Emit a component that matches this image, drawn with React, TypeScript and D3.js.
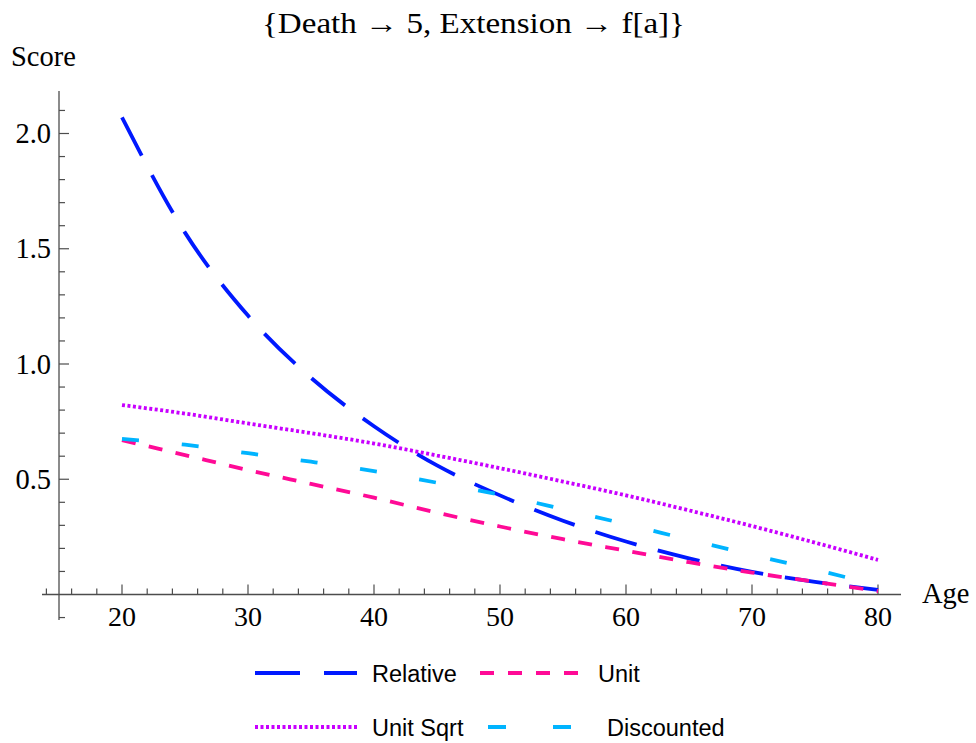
import * as d3 from "d3";
import { useEffect, useRef } from "react";

// ---------------- DATA ----------------
const ages = [20, 25, 30, 35, 40, 45, 50, 55, 60, 65, 70, 75, 80];
const relative = [2.07, 1.57, 1.21, 0.94, 0.73, 0.56, 0.43, 0.32, 0.23, 0.157, 0.098, 0.055, 0.02];
const unit = [0.67, 0.605, 0.54, 0.48, 0.42, 0.355, 0.295, 0.24, 0.19, 0.14, 0.095, 0.055, 0.015];
const unitSqrt = [0.822, 0.785, 0.742, 0.7, 0.655, 0.603, 0.548, 0.49, 0.43, 0.365, 0.297, 0.225, 0.15];
const discounted = [0.675, 0.65, 0.613, 0.576, 0.535, 0.485, 0.433, 0.37, 0.305, 0.238, 0.172, 0.108, 0.04];

const seriesNames = ["Relative", "Unit", "Unit Sqrt", "Discounted"];
const xMajorTicks = [20, 30, 40, 50, 60, 70, 80];
const yMajorTicks = [0.5, 1.0, 1.5, 2.0];

const title = "{Death \u2192 5, Extension \u2192 f[a]}";

export default function App() {
  const refSvg = useRef(null);

  useEffect(() => {
    const svg = d3.select(refSvg.current);
    svg.selectAll("*").remove();

    // scales: y axis sits at age 15, x axis at score 0
    const X = d3.scaleLinear().domain([20, 80]).range([122, 878]);
    const Y = d3.scaleLinear().domain([0, 2]).range([594.5, 133.5]);

    const axisColor = "#4d4d4d";
    const serif = "'Liberation Serif', 'Times New Roman', serif";
    const sans = "'Liberation Sans', Arial, sans-serif";

    const styles = [
      { color: "#0019ff", dash: "43,22" },
      { color: "#ff0a96", dash: "14,13.5" },
      { color: "#c800ff", dash: "3,2.5" },
      { color: "#00b4ff", dash: "17,43" },
    ];
    const allSeries = [relative, unit, unitSqrt, discounted];

    // ---------- axes ----------
    const g = svg.append("g");
    const x0 = X.invert(42), x1 = X.invert(901);
    const yTop = Y.invert(91), yBot = Y.invert(620);

    g.append("line")
      .attr("x1", X(x0)).attr("x2", X(x1))
      .attr("y1", Y(0)).attr("y2", Y(0))
      .attr("stroke", axisColor).attr("stroke-width", 1.3);
    g.append("line")
      .attr("x1", X(15)).attr("x2", X(15))
      .attr("y1", Y(yTop)).attr("y2", Y(yBot))
      .attr("stroke", axisColor).attr("stroke-width", 1.3);

    // x ticks (minor every 2, major every 10), pointing up
    const xTicks = d3.range(14, 81, 2);
    g.selectAll(".xt").data(xTicks).join("line")
      .attr("x1", d => X(d)).attr("x2", d => X(d))
      .attr("y1", Y(0))
      .attr("y2", d => Y(0) - (d % 10 === 0 && d >= 20 ? 10 : 6))
      .attr("stroke", axisColor).attr("stroke-width", 1.2);

    g.selectAll(".xl").data(xMajorTicks).join("text")
      .attr("x", d => X(d)).attr("y", Y(0) + 31)
      .attr("text-anchor", "middle")
      .attr("font-family", serif).attr("font-size", 28)
      .text(d => d);

    // y ticks (minor every 0.1), pointing right
    const yTicks = d3.range(-1, 22).map(i => i / 10);
    g.selectAll(".yt").data(yTicks).join("line")
      .attr("x1", X(15)).attr("x2", d => X(15) + (Math.round(d * 10) % 5 === 0 && d > 0 ? 10 : 6))
      .attr("y1", d => Y(d)).attr("y2", d => Y(d))
      .attr("stroke", axisColor).attr("stroke-width", 1.2)
      .attr("display", d => (Math.abs(d) < 1e-9 ? "none" : null));

    g.selectAll(".yl").data(yMajorTicks).join("text")
      .attr("x", 51).attr("y", d => Y(d) + 9.5)
      .attr("text-anchor", "end")
      .attr("font-family", serif).attr("font-size", 28.5)
      .text(d => d.toFixed(1));

    g.append("text").text("Score")
      .attr("x", 11).attr("y", 66)
      .attr("font-family", serif).attr("font-size", 28.5);
    g.append("text").text("Age")
      .attr("x", 922).attr("y", 603)
      .attr("font-family", serif).attr("font-size", 28.5);

    svg.append("text").text(title)
      .attr("x", 262).attr("y", 33)
      .attr("textLength", 423)
      .attr("lengthAdjust", "spacingAndGlyphs")
      .attr("font-family", serif).attr("font-size", 29);

    // ---------- lines ----------
    const line = d3.line<number>()
      .x((d, i) => X(ages[i]))
      .y(d => Y(d))
      .curve(d3.curveMonotoneX);

    allSeries.forEach((s, i) => {
      svg.append("path")
        .attr("d", line(s))
        .attr("fill", "none")
        .attr("stroke", styles[i].color)
        .attr("stroke-width", 3.8)
        .attr("stroke-dasharray", styles[i].dash);
    });

    // ---------- legend ----------
    const legendItems = [
      { x1: 255, x2: 357, y: 673, tx: 372, dash: "45,24" },
      { x1: 480, x2: 578, y: 673, tx: 598, dash: "14,14" },
      { x1: 255, x2: 357, y: 727, tx: 372, dash: "3,2.5" },
      { x1: 488, x2: 571, y: 727, tx: 607, dash: "18,47" },
    ];
    legendItems.forEach((it, i) => {
      svg.append("line")
        .attr("x1", it.x1).attr("x2", it.x2)
        .attr("y1", it.y).attr("y2", it.y)
        .attr("stroke", styles[i].color)
        .attr("stroke-width", 3.8)
        .attr("stroke-dasharray", it.dash);
      svg.append("text").text(seriesNames[i])
        .attr("x", it.tx).attr("y", it.y + 8.5)
        .attr("font-family", sans).attr("font-size", 23.5);
    });
  }, []);

  return (
    <svg
      ref={refSvg}
      width={976}
      height={743}
      style={{ position: "absolute", left: 0, top: 0, background: "white" }}
    />
  );
}
